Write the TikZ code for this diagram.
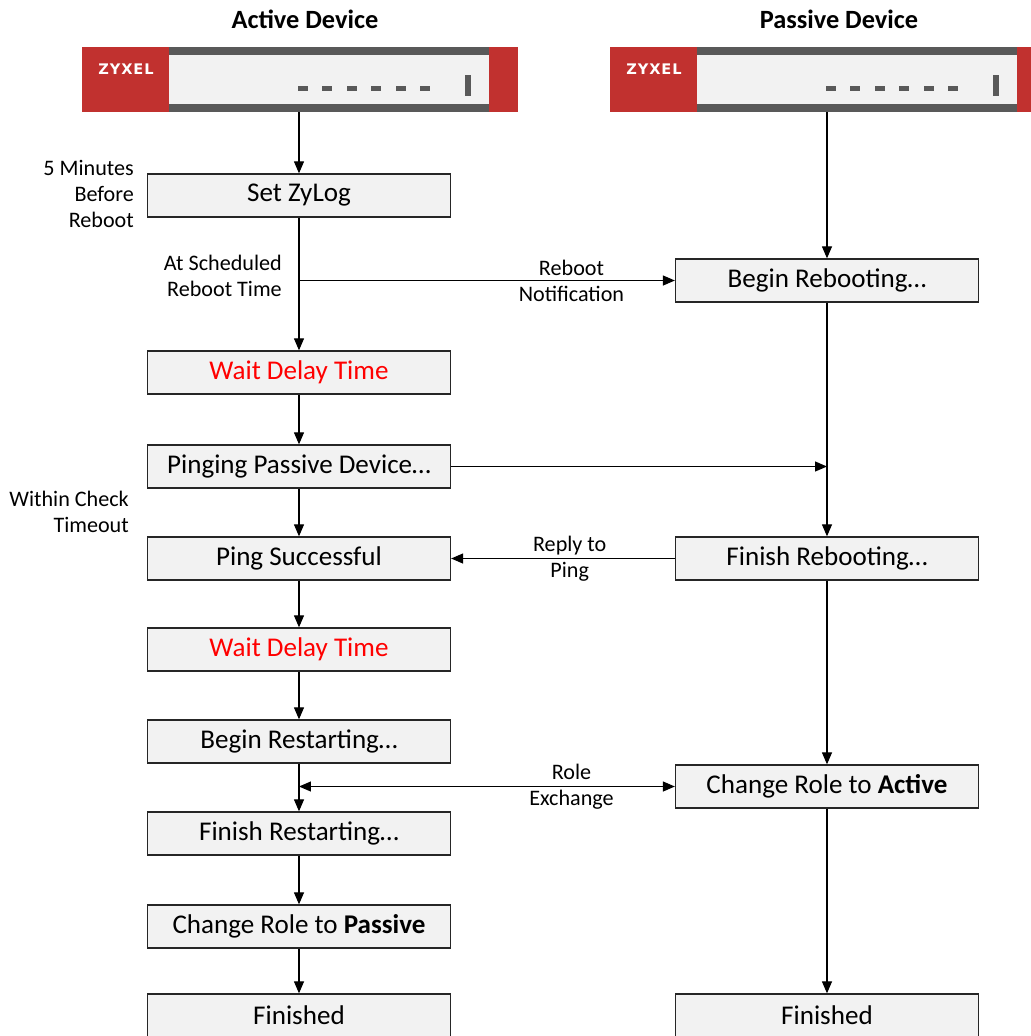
\documentclass[tikz,border=0pt]{standalone}
\usepackage{fontspec}
\setmainfont{Carlito}
\newfontfamily\logofont[LetterSpace=6]{DejaVu Sans}
\usetikzlibrary{arrows.meta,positioning}
\definecolor{zyred}{HTML}{C1312F}
\definecolor{zygrey}{HTML}{595959}
\definecolor{boxfill}{HTML}{F2F2F2}
\begin{document}
\begin{tikzpicture}[x=0.02cm,y=-0.02cm,
    stepbox/.style={draw=black!85,fill=boxfill,line width=0.75pt,
      minimum width=6.06cm,minimum height=0.86cm,inner sep=0pt,
      font=\fontsize{15.4}{18}\selectfont},
    lbl/.style={align=center,font=\fontsize{12.6}{14.7}\selectfont},
    side/.style={lbl,align=right,anchor=east},
    tip/.tip={Triangle[length=0.24cm,width=0.2cm]},
    flow/.style={-tip,line width=0.7pt},
    title/.style={font=\bfseries\fontsize{15}{18}\selectfont}]
\useasboundingbox (0,0) rectangle (1031,1036);
\clip (0,0) rectangle (1031,1036);

% the two firewalls
\foreach \dx/\nm in {82/actdev,610/pasdev}{
  \fill[zyred] (\dx,47) rectangle (\dx+436,112);
  \fill[zygrey] (\dx+87,47) rectangle (\dx+407,112);
  \fill[boxfill] (\dx+87,55) rectangle (\dx+407,104);
  \node[text=white,font=\logofont\bfseries\fontsize{8.3}{10}\selectfont] at (\dx+44,69) {ZYXEL};
  \foreach \i in {0,...,5}
    \fill[zygrey] (\dx+216+24.4*\i,86) rectangle ++(10,4.5);
  \fill[zygrey] (\dx+383,75) rectangle ++(6,21);
  \coordinate (\nm) at (\dx+217,112);
}
\node[title] (acttitle) at (305,19) {Active Device};
\node[title] (pastitle) at (839,19) {Passive Device};

% active side
\node[stepbox] (setlog) at (299,195.5) {Set ZyLog};
\node[stepbox,text=red] (wait1) at (299,372.5) {Wait Delay Time};
\node[stepbox] (pinging) at (299,466.5) {Pinging Passive Device…};
\node[stepbox] (pingok) at (299,558.5) {Ping Successful};
\node[stepbox,text=red] (wait2) at (299,649.5) {Wait Delay Time};
\node[stepbox] (beginrestart) at (299,741.5) {Begin Restarting…};
\node[stepbox] (finishrestart) at (299,833.5) {Finish Restarting…};
\node[stepbox] (topassive) at (299,926.5) {Change Role to \textbf{Passive}};
\node[stepbox] (actdone) at (299,1015.5) {Finished};

% passive side
\node[stepbox] (beginreboot) at (827,280.5) {Begin Rebooting…};
\node[stepbox] (finishreboot) at (827,558.5) {Finish Rebooting…};
\node[stepbox] (toactive) at (827,786.5) {Change Role to \textbf{Active}};
\node[stepbox] (pasdone) at (827,1015.5) {Finished};

% notes beside the active column
\node[side] (note1) at (140,194) {5 Minutes\\Before\\Reboot};
\node[side] (note2) at (288,275.5) {At Scheduled\\Reboot Time};
\node[side] (note3) at (135,511.5) {Within Check\\Timeout};

\coordinate (branch) at (setlog.south |- beginreboot.west);
\coordinate (pinghit) at (beginreboot.south |- pinging.east);
\coordinate (swap) at (beginrestart.south |- toactive.west);

\draw[flow] (actdev) -- (setlog);
\draw[flow] (setlog) -- (wait1);
\draw[flow] (branch) -- node[lbl,pos=0.725]{Reboot\\Notification} (beginreboot);
\draw[flow] (wait1) -- (pinging);
\draw[flow] (pinging) -- (pinghit);
\draw[flow] (pinging) -- (pingok);
\draw[flow] (pingok) -- (wait2);
\draw[flow] (wait2) -- (beginrestart);
\draw[flow] (beginrestart) -- (finishrestart);
\draw[flow] (finishrestart) -- (topassive);
\draw[flow] (topassive) -- (actdone);

\draw[flow] (pasdev) -- (beginreboot);
\draw[flow] (beginreboot) -- (finishreboot);
\draw[flow] (finishreboot) -- node[lbl,pos=0.47]{Reply to\\Ping} (pingok);
\draw[flow] (finishreboot) -- (toactive);
\draw[flow] (toactive) -- (pasdone);
\draw[flow,tip-tip] (swap) -- node[lbl,pos=0.725]{Role\\Exchange} (toactive);
\end{tikzpicture}
\end{document}
